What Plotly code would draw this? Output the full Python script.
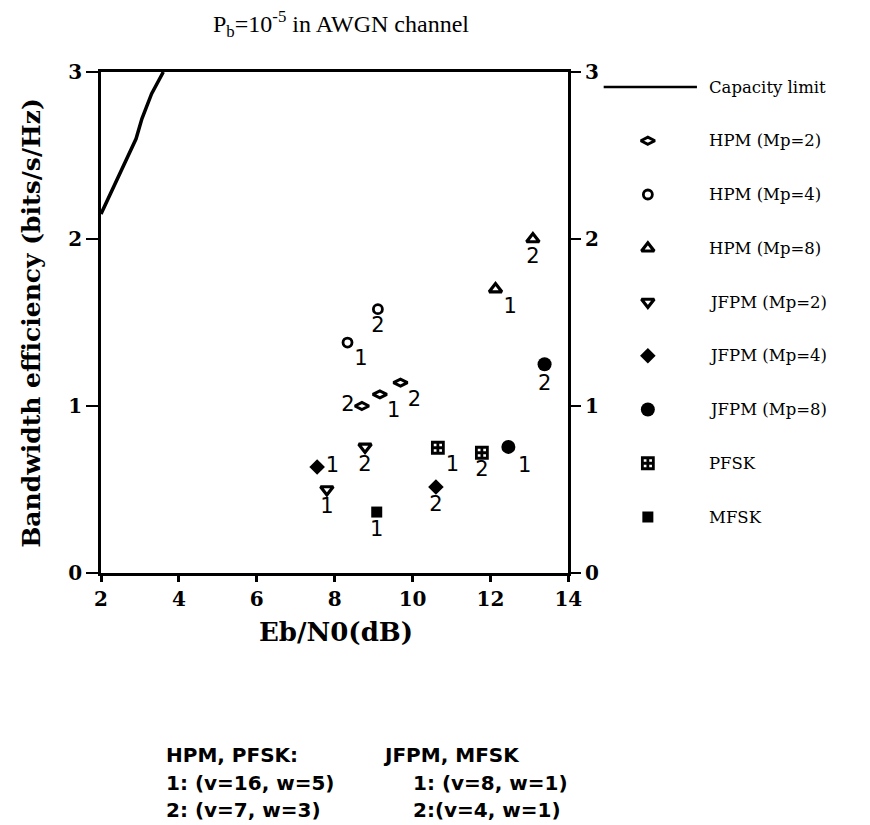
import plotly.graph_objects as go

# ---------------- data ----------------
cap_x = [2.0, 2.5, 2.9, 3.05, 3.3, 3.6]
cap_y = [2.15, 2.4, 2.6, 2.72, 2.87, 3.0]

series_names = ["HPM (Mp=2)", "HPM (Mp=4)", "HPM (Mp=8)", "JFPM (Mp=2)",
                "JFPM (Mp=4)", "JFPM (Mp=8)", "PFSK", "MFSK"]

hpm2_x = [9.16, 8.7, 9.69]
hpm2_y = [1.07, 1.0, 1.14]
hpm2_lab = ["1", "2", "2"]

hpm4_x = [8.33, 9.11]
hpm4_y = [1.38, 1.58]
hpm4_lab = ["1", "2"]

hpm8_x = [12.13, 13.09]
hpm8_y = [1.70, 2.0]
hpm8_lab = ["1", "2"]

jfpm2_x = [7.8, 8.78]
jfpm2_y = [0.50, 0.755]
jfpm2_lab = ["1", "2"]

jfpm4_x = [7.55, 10.6]
jfpm4_y = [0.635, 0.515]
jfpm4_lab = ["1", "2"]

jfpm8_x = [12.46, 13.39]
jfpm8_y = [0.755, 1.25]
jfpm8_lab = ["1", "2"]

pfsk_x = [10.65, 11.78]
pfsk_y = [0.75, 0.72]
pfsk_lab = ["1", "2"]

mfsk_x = [9.08]
mfsk_y = [0.365]
mfsk_lab = ["1"]

x_ticks = [2, 4, 6, 8, 10, 12, 14]
y_ticks = [0, 1, 2, 3]

# ---------------- styles ----------------
SERIF = "DejaVu Serif"
TSERIF = "Liberation Serif"
SANS = "DejaVu Sans"
styles = [
    dict(symbol="diamond-wide-open", size=10, line=dict(width=3, color="black")),
    dict(symbol="circle-open", size=9, line=dict(width=2.8, color="black")),
    dict(symbol="triangle-up-open", size=11, line=dict(width=3.2, color="black")),
    dict(symbol="triangle-down-open", size=11, line=dict(width=3.2, color="black")),
    dict(symbol="diamond", size=12, line=dict(width=0)),
    dict(symbol="circle", size=14, line=dict(width=0)),
    dict(symbol="square-cross-open", size=11, line=dict(width=2.8, color="black")),
    dict(symbol="square", size=11, line=dict(width=0)),
]
label_pos = [
    ["bottom right", "middle left", "bottom right"],
    ["bottom right", "bottom center"],
    ["bottom right", "bottom center"],
    ["bottom center", "bottom center"],
    ["middle right", "bottom center"],
    ["bottom right", "bottom center"],
    ["bottom right", "bottom center"],
    ["bottom center"],
]

data = [
    (hpm2_x, hpm2_y, hpm2_lab), (hpm4_x, hpm4_y, hpm4_lab), (hpm8_x, hpm8_y, hpm8_lab),
    (jfpm2_x, jfpm2_y, jfpm2_lab), (jfpm4_x, jfpm4_y, jfpm4_lab),
    (jfpm8_x, jfpm8_y, jfpm8_lab), (pfsk_x, pfsk_y, pfsk_lab), (mfsk_x, mfsk_y, mfsk_lab),
]

fig = go.Figure()

# capacity limit
fig.add_trace(go.Scatter(x=cap_x, y=cap_y, mode="lines",
                         line=dict(color="black", width=3.5),
                         xaxis="x", yaxis="y", showlegend=False))

for (xs, ys, labs), st, pos in zip(data, styles, label_pos):
    fig.add_trace(go.Scatter(
        x=xs, y=ys, mode="markers+text", text=labs, textposition=pos,
        textfont=dict(family=SANS, size=21, color="black"),
        marker=dict(color="black", **st),
        xaxis="x", yaxis="y", showlegend=False, cliponaxis=False))

# invisible trace for the right axis
fig.add_trace(go.Scatter(x=[None], y=[None], xaxis="x", yaxis="y3",
                         showlegend=False, hoverinfo="skip"))

# ---------------- manual legend ----------------
fig.add_trace(go.Scatter(x=[13, 108], y=[0, 0], mode="lines",
                         line=dict(color="black", width=2.5),
                         xaxis="x2", yaxis="y2", showlegend=False))
for i, st in enumerate(styles):
    s = dict(st)
    fig.add_trace(go.Scatter(x=[58], y=[i + 1], mode="markers",
                             marker=dict(color="black", **s),
                             xaxis="x2", yaxis="y2", showlegend=False))

legend_labels = ["Capacity limit"] + series_names
for i, lab in enumerate(legend_labels):
    fig.add_annotation(x=118, y=i, xref="x2", yref="y2", text=lab, showarrow=False,
                       xanchor="left", yanchor="middle",
                       font=dict(family=SERIF, size=16.5, color="black"))

# ---------------- axes / layout ----------------
W, H = 870, 825
ml, mr, mt, mb = 101, 0, 72, 252
pw = W - ml - mr
ph = H - mt - mb
xdom_end = 476 / pw

axis_font = dict(family=SERIF, size=20, color="black", weight="bold")

fig.update_layout(
    width=W, height=H,
    margin=dict(l=ml, r=mr, t=mt, b=mb),
    paper_bgcolor="white", plot_bgcolor="white",
    title=dict(text="P<sub>b</sub>=10<sup>-5</sup> in AWGN channel",
               x=341 / W, xanchor="center", y=1 - 24 / H, yanchor="middle",
               font=dict(family=TSERIF, size=24, color="black")),
    xaxis=dict(domain=[0, xdom_end], range=[2, 14], tickvals=x_ticks,
               showline=True, linecolor="black", linewidth=2.5, mirror=True,
               ticks="outside", ticklen=6, tickwidth=2.5, tickcolor="black",
               showgrid=False, zeroline=False, tickfont=axis_font, anchor="y"),
    yaxis=dict(domain=[0, 1], range=[0, 3], tickvals=y_ticks,
               showline=True, linecolor="black", linewidth=2.5,
               ticks="outside", ticklen=12, tickwidth=2, tickcolor="black",
               showgrid=False, zeroline=False, tickfont=axis_font, anchor="x"),
    yaxis3=dict(range=[0, 3], tickvals=y_ticks, overlaying="y", side="right", anchor="x",
                showline=True, linecolor="black", linewidth=2.5,
                ticks="outside", ticklen=10, tickwidth=2, tickcolor="black",
                showgrid=False, zeroline=False, tickfont=axis_font),
    xaxis2=dict(domain=[(600 - ml) / pw, 1], range=[0, W - 600], visible=False,
                anchor="y2", fixedrange=True),
    yaxis2=dict(domain=[0, 1], range=[8 + (573 - 517) / 53.75, -(87 - 72) / 53.75],
                visible=False, anchor="x2", fixedrange=True),
    showlegend=False,
)

def px_x(px):
    return (px - ml) / pw

def px_y(py):
    return (H - mb - py) / ph

# axis titles
fig.add_annotation(x=px_x(340), y=px_y(632), xref="paper", yref="paper",
                   text="<b>Eb/N0(dB)</b>", showarrow=False,
                   xanchor="center", yanchor="middle",
                   font=dict(family=SERIF, size=26, color="black"))
fig.add_annotation(x=px_x(30), y=0.5, xref="paper", yref="paper",
                   text="<b>Bandwidth efficiency (bits/s/Hz)</b>", showarrow=False,
                   textangle=-90, xanchor="center", yanchor="middle",
                   font=dict(family=SERIF, size=25, color="black"))

# footnote text
notes = [
    ("HPM, PFSK:", 165, 755), ("JFPM, MFSK", 386, 755),
    ("1: (v=16, w=5)", 165, 783), ("1: (v=8, w=1)", 417, 783),
    ("2: (v=7, w=3)", 165, 810), ("2:(v=4, w=1)", 417, 810),
]
for txt, x0, y0 in notes:
    fig.add_annotation(x=px_x(x0), y=px_y(y0), xref="paper", yref="paper",
                       text="<b>" + txt + "</b>", showarrow=False,
                       xanchor="left", yanchor="middle",
                       font=dict(family=SANS, size=20, color="black"))

fig.write_html("out.html")
